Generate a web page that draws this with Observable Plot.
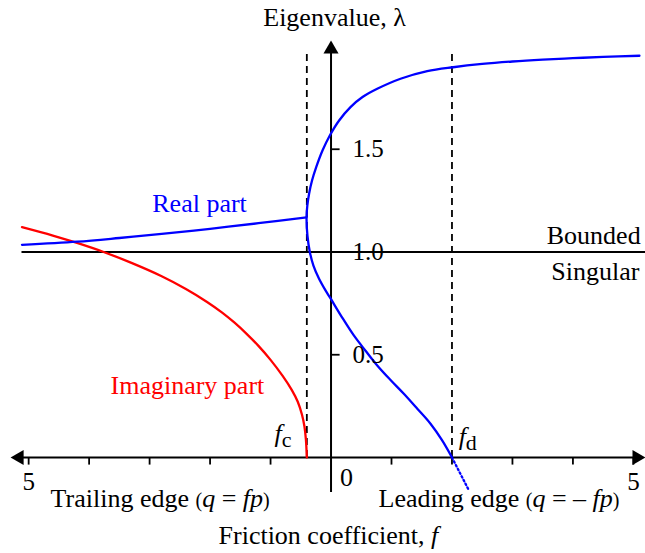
<!DOCTYPE html>
<html><head><meta charset="utf-8">
<script src="https://cdn.jsdelivr.net/npm/d3@7"></script>
<script src="https://cdn.jsdelivr.net/npm/@observablehq/plot@0.6"></script>
<style>
body{margin:0;background:#fff;}
svg text, svg tspan{font-family:"Liberation Serif","Times New Roman",serif !important;}
</style></head><body><div id="chart"></div>
<script>
// critical friction coefficients
const fc = -0.4, fd = 2.0;

// real part, left branch (f < fc)
const realLeftF = [-5.11, -4.2, -3.5, -2.8, -2.0, -1.2, -0.405];
const realLeftL = [1.035, 1.05, 1.068, 1.088, 1.113, 1.14, 1.168];

// real part, right (two-valued) branch: upper limb from the right edge down to the turning point
const realUpperF = [5.1, 4.5, 4.0, 3.5, 3.0, 2.5, 2.02, 1.591, 1.149, 0.764, 0.521, 0.322, 0.134, -0.02, -0.141, -0.245, -0.314, -0.362, -0.392, -0.405];
const realUpperL = [1.955, 1.949, 1.943, 1.936, 1.927, 1.915, 1.899, 1.880, 1.843, 1.794, 1.754, 1.705, 1.640, 1.567, 1.494, 1.413, 1.348, 1.285, 1.226, 1.168];
// lower limb from the turning point down to fd
const realLowerF = [-0.39, -0.349, -0.291, -0.2, -0.091, -0.018, 0.174, 0.377, 0.567, 0.764, 0.984, 1.204, 1.43, 1.645, 1.835, 2.0];
const realLowerL = [1.08, 0.998, 0.934, 0.871, 0.813, 0.779, 0.686, 0.594, 0.521, 0.448, 0.377, 0.31, 0.236, 0.164, 0.084, 0];

// dotted continuation beyond fd
const dotF = [2.0, 2.14, 2.28];
const dotL = [0, -0.08, -0.16];

// imaginary part
const imagF = [-5.11, -4.6, -4.2, -3.76, -3.3, -2.8, -2.4, -2.05, -1.8, -1.6, -1.4, -1.2, -1.0, -0.8, -0.65, -0.55, -0.48, -0.44, -0.415, -0.4];
const imagL = [1.121, 1.080, 1.044, 1.000, 0.947, 0.882, 0.820, 0.757, 0.705, 0.657, 0.603, 0.543, 0.475, 0.397, 0.329, 0.271, 0.208, 0.152, 0.087, 0];

// axis ticks and labels
const xTicks = [-5, -4, -3, -2, -1, 1, 2, 3, 4, 5];
const xTickLabelValues = [-5, 5];
const xTickLabelTexts = ["5", "5"];
const yTicks = [0.5, 1.5];
const yLabelValues = [0.5, 1.0, 1.5];
const yLabelTexts = ["0.5", "1.0", "1.5"];

const zip = (a, b) => a.map((v, i) => ({f: v, l: b[i]}));
const realLeft = zip(realLeftF, realLeftL);
const realRight = zip(realUpperF.concat(realLowerF), realUpperL.concat(realLowerL));
const dotted = zip(dotF, dotL);
const imag = zip(imagF, imagL);

const it = s => '<tspan font-style="italic">' + s + '</tspan>';
const small = s => '<tspan font-size="20">' + s + '</tspan>';
// annotations
const notes = [
  {f: 0.058, l: 2.102, a: "middle", t: "Eigenvalue, λ", h: "Eigenvalue, λ", c: "black"},
  {f: -2.956, l: 1.197, a: "start", t: "Real part", h: "Real part", c: "blue"},
  {f: 5.12, l: 1.041, a: "end", t: "Bounded", h: "Bounded", c: "black"},
  {f: 5.10, l: 0.866, a: "end", t: "Singular", h: "Singular", c: "black"},
  {f: -3.646, l: 0.31, a: "start", t: "Imaginary part", h: "Imaginary part", c: "red"},
  {f: -0.934, l: 0.075, a: "start", t: "fc", h: it("f") + '<tspan font-size="22" dy="5">c</tspan>', c: "black"},
  {f: 2.11, l: 0.06, a: "start", t: "fd", h: it("f") + '<tspan font-size="22" dy="5">d</tspan>', c: "black"},
  {f: 0.256, l: -0.141, a: "middle", t: "0", h: "0", c: "black"},
  {f: -4.637, l: -0.242, a: "start", t: "Trailing edge (q = fp)", h: "Trailing edge " + small("(") + it("q") + " = " + it("fp") + small(")"), c: "black"},
  {f: 0.785, l: -0.242, a: "start", t: "Leading edge (q = – fp)", h: "Leading edge " + small("(") + it("q") + " = – " + it("fp") + small(")"), c: "black"},
  {f: -1.86, l: -0.42, a: "start", t: "Friction coefficient, f", h: "Friction coefficient, " + it("f"), c: "black"}
];

const FS = 26, TFS = 25;
const FF = "Liberation Serif";
const noteMark = (anchor) => Plot.text(notes.filter(d => d.a === anchor), {
  x: "f", y: "l", text: "t", textAnchor: anchor, fill: "c", fontSize: FS, fontFamily: FF,
  lineAnchor: "bottom", className: "rich-" + anchor
});

const plot = Plot.plot({
  width: 645,
  height: 553,
  marginLeft: 10, marginRight: 0, marginTop: 0, marginBottom: 0,
  x: {domain: [-5.3, 5.2], axis: null},
  y: {domain: [-0.4672, 2.2238], axis: null},
  style: {background: "white", fontFamily: FF},
  marks: [
    Plot.ruleX([fc, fd], {x: d => d, y1: 0, y2: 1.966, stroke: "black", strokeWidth: 1.8, strokeDasharray: "7,5"}),
    Plot.ruleY([1], {y: d => d, x1: -5.11, x2: 5.3, stroke: "black", strokeWidth: 2.2}),
    Plot.ruleY([0], {y: d => d, x1: -5.15, x2: 5.1, stroke: "black", strokeWidth: 2}),
    Plot.ruleX([0], {x: d => d, y1: -0.17, y2: 1.99, stroke: "black", strokeWidth: 2}),
    Plot.ruleX(xTicks, {x: d => d, y1: 0, y2: -0.037, stroke: "black", strokeWidth: 1.8}),
    Plot.ruleY(yTicks, {y: d => d, x1: 0, x2: 0.15, stroke: "black", strokeWidth: 1.8}),
    Plot.dot([{f: -5.155, l: 0, r: -90}, {f: 5.057, l: 0, r: 90}, {f: 0, l: 1.987, r: 0}], {x: "f", y: "l", rotate: "r", symbol: "triangle", r: 5.6, fill: "black", stroke: "none"}),
    Plot.line(imag, {x: "f", y: "l", stroke: "red", strokeWidth: 2.3, curve: "catmull-rom"}),
    Plot.line(realLeft, {x: "f", y: "l", stroke: "blue", strokeWidth: 2.3, curve: "catmull-rom"}),
    Plot.line(realRight, {x: "f", y: "l", stroke: "blue", strokeWidth: 2.3, curve: "catmull-rom"}),
    Plot.line(dotted, {x: "f", y: "l", stroke: "blue", strokeWidth: 2.3, strokeDasharray: "1.6,2.6"}),
    Plot.text(xTickLabelValues, {x: d => d, y: -0.1606, text: (d, i) => xTickLabelTexts[i], fontSize: TFS, fontFamily: FF, lineAnchor: "bottom", textAnchor: "middle"}),
    Plot.text(yLabelValues, {x: 0, y: d => d, text: (d, i) => yLabelTexts[i], dx: 21.5, fontSize: TFS, fontFamily: FF, lineAnchor: "middle", textAnchor: "start"}),
    noteMark("start"),
    noteMark("middle"),
    noteMark("end")
  ]
});

for (const anchor of ["start", "middle", "end"]) {
  const sub = notes.filter(d => d.a === anchor);
  d3.select(plot).selectAll("g.rich-" + anchor + " text").each(function(d, i) {
    this.innerHTML = sub[i].h;
    this.querySelectorAll("tspan").forEach(t => t.setAttribute("fill", sub[i].c));
  });
}
document.getElementById("chart").appendChild(plot);
</script>
</body></html>
